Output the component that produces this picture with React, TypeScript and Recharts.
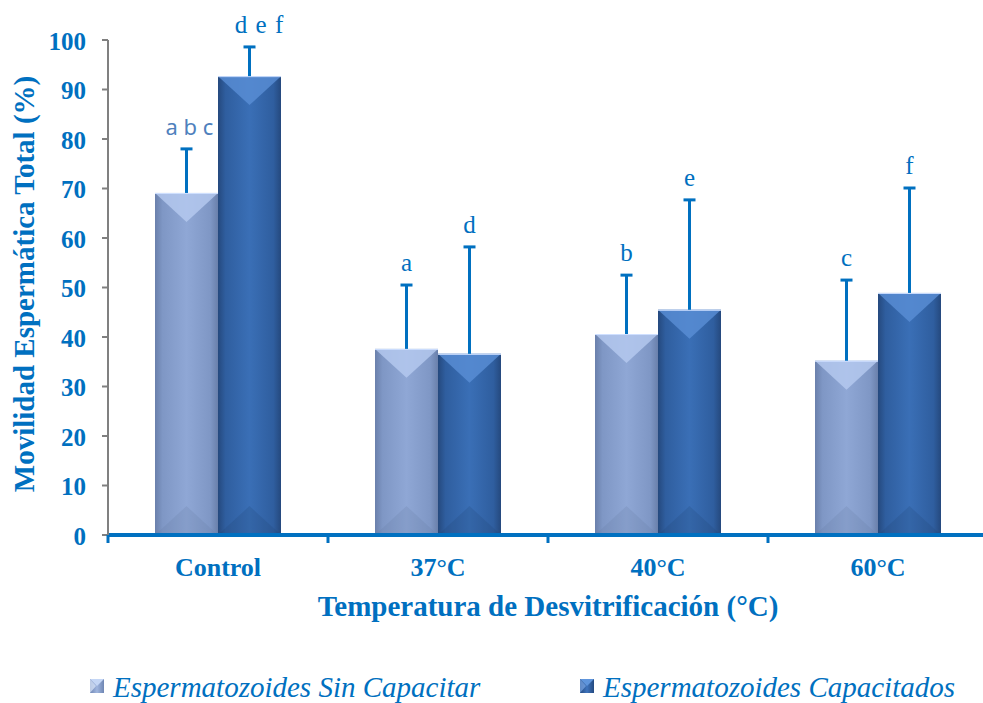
import { BarChart, Bar, XAxis, YAxis } from 'recharts';

const categories = ['Control', '37°C', '40°C', '60°C'];
const sinCapacitar = [69.1, 37.6, 40.6, 35.2];
const capacitados = [92.7, 36.6, 45.5, 48.9];
const errSin = [8.9, 12.9, 11.9, 16.3];
const errCap = [5.9, 21.6, 22.2, 21.2];
const lettersSin = ['a b c', 'a', 'b', 'c'];
const lettersCap = ['d e f', 'd', 'e', 'f'];
const yTicks = [0, 10, 20, 30, 40, 50, 60, 70, 80, 90, 100];
const seriesNames = ['Espermatozoides Sin Capacitar', 'Espermatozoides Capacitados'];

const data = categories.map((name, i) => ({
  name,
  sin: sinCapacitar[i],
  cap: capacitados[i],
  errSin: errSin[i],
  errCap: errCap[i],
  letSin: lettersSin[i],
  letCap: lettersCap[i],
}));

const BLUE = '#0070C0';
const SERIF = '"Liberation Serif", "Times New Roman", serif';

const CHART_W = 995;
const MARGIN = { top: 40, right: 7, bottom: 108, left: 0 };
const Y_W = 108;
const HALF_BAND = (CHART_W - MARGIN.right - MARGIN.left - Y_W) / categories.length / 2;

function makeShape(gradId: string, topColor: string, bottomColor: string, errKey: string, letKey: string, sans: boolean) {
  return (props: any) => {
    const { x, y, width, height, value, payload } = props;
    const v = Array.isArray(value) ? value[1] - value[0] : value;
    const perUnit = v ? height / v : 0;
    const errPx = payload[errKey] * perUnit;
    const cx = x + width / 2;
    const capY = y - errPx;
    const multi = payload[letKey].length > 1;
    const isAbc = sans && multi;
    return (
      <g>
        <rect x={x} y={y} width={width} height={height} fill={`url(#${gradId})`} />
        <polygon points={`${x},${y} ${x + width},${y} ${cx},${y + width * 0.46}`} fill={topColor} opacity={0.8} />
        <polygon points={`${x},${y + height} ${x + width},${y + height} ${cx},${y + height - width * 0.46}`} fill={bottomColor} opacity={0.18} />
        <line x1={x} x2={x + width} y1={y + 0.5} y2={y + 0.5} stroke="#cfe0ff" strokeWidth={1} />
        <line x1={cx} x2={cx} y1={y} y2={capY} stroke={BLUE} strokeWidth={3} />
        <line x1={cx - 6} x2={cx + 6} y1={capY} y2={capY} stroke={BLUE} strokeWidth={3} />
        <text
          x={cx + (multi ? (isAbc ? 3 : 10) : 0)}
          y={capY - 14}
          textAnchor="middle"
          fill={isAbc ? '#4F81BD' : BLUE}
          fontSize={isAbc ? 22 : 25}
          fontFamily={isAbc ? '"Noto Sans", sans-serif' : SERIF}
          letterSpacing={multi && !isAbc ? 1 : 0}
        >
          {payload[letKey]}
        </text>
      </g>
    );
  };
}

const XTick = (props: any) => {
  const { x, payload, index } = props;
  const base = 535;
  return (
    <g>
      <text x={x} y={576} textAnchor="middle" fill={BLUE} fontWeight="bold" fontSize={26} fontFamily={SERIF}>
        {payload.value}
      </text>
      <line x1={x - HALF_BAND} x2={x - HALF_BAND} y1={base} y2={base + 8} stroke={BLUE} strokeWidth={3} />
      {index === categories.length - 1 && (
        <line x1={x + HALF_BAND} x2={x + HALF_BAND} y1={base} y2={base + 8} stroke={BLUE} strokeWidth={3} />
      )}
    </g>
  );
};

const LegendItem = ({ x, light, label }: { x: number; light: boolean; label: string }) => {
  const id = light ? 'lgL' : 'lgD';
  return (
    <g>
      <defs>
        <linearGradient id={id} x1="0" y1="0" x2="1" y2="0">
          <stop offset="0" stopColor={light ? '#6f86b3' : '#244a80'} />
          <stop offset="0.5" stopColor={light ? '#9fb5de' : '#3f74bd'} />
          <stop offset="1" stopColor={light ? '#6f86b3' : '#244a80'} />
        </linearGradient>
      </defs>
      <rect x={x} y={11} width={14} height={14} fill={`url(#${id})`} />
      <polygon points={`${x},${11} ${x + 14},${11} ${x + 7},${18}`} fill={light ? '#c4d6f5' : '#5f95dc'} />
      <polygon points={`${x},${11} ${x},${25} ${x + 6},${18}`} fill={light ? '#dde8fb' : '#7aa6e6'} opacity={0.7} />
      <text x={x + 23} y={29} fill={BLUE} fontSize={29} fontStyle="italic" fontFamily={SERIF}>
        {label}
      </text>
    </g>
  );
};

export default function App() {
  return (
    <div style={{ position: 'absolute', left: 0, top: 0, width: 983, height: 703, overflow: 'hidden', background: '#fff' }}>
      <BarChart
        width={CHART_W}
        height={703}
        data={data}
        margin={MARGIN}
        barGap={0}
        barCategoryGap={47}
      >
        <defs>
          <linearGradient id="gSin" x1="0" y1="0" x2="1" y2="0">
            <stop offset="0" stopColor="#6a80ab" />
            <stop offset="0.12" stopColor="#7f97c5" />
            <stop offset="0.5" stopColor="#8fa7d5" />
            <stop offset="0.88" stopColor="#7f97c5" />
            <stop offset="1" stopColor="#6a80ab" />
          </linearGradient>
          <linearGradient id="gCap" x1="0" y1="0" x2="1" y2="0">
            <stop offset="0" stopColor="#25497e" />
            <stop offset="0.12" stopColor="#2f5e9f" />
            <stop offset="0.5" stopColor="#3a6fb6" />
            <stop offset="0.88" stopColor="#2f5e9f" />
            <stop offset="1" stopColor="#25497e" />
          </linearGradient>
        </defs>
        <XAxis
          dataKey="name"
          height={60}
          axisLine={{ stroke: BLUE, strokeWidth: 4 }}
          tickLine={false}
          tick={<XTick />}
          interval={0}
          label={{
            content: (p: any) => {
              const vb = p.viewBox || {};
              const cx = vb.x !== undefined ? vb.x + vb.width / 2 : 548;
              return (
                <text x={cx} y={616} textAnchor="middle" fill={BLUE} fontWeight="bold" fontSize={29} fontFamily={SERIF}>
                  Temperatura de Desvitrificación (°C)
                </text>
              );
            },
          }}
        />
        <YAxis
          width={Y_W}
          domain={[0, 100]}
          ticks={yTicks}
          interval={0}
          axisLine={{ stroke: '#808080', strokeWidth: 2 }}
          tickLine={{ stroke: '#808080', strokeWidth: 2 }}
          tickSize={6}
          tickMargin={16}
          tick={{ fill: BLUE, fontWeight: 'bold', fontSize: 25, fontFamily: SERIF, dy: 1 }}
          label={{
            content: () => (
              <text
                x={34}
                y={284}
                transform="rotate(-90 34 284)"
                textAnchor="middle"
                fill={BLUE}
                fontWeight="bold"
                fontSize={29}
                fontFamily={SERIF}
              >
                Movilidad Espermática Total (%)
              </text>
            ),
          }}
        />
        <Bar dataKey="sin" name={seriesNames[0]} isAnimationActive={false} shape={makeShape('gSin', '#b6cbf0', '#5d7299', 'errSin', 'letSin', true)} />
        <Bar dataKey="cap" name={seriesNames[1]} isAnimationActive={false} shape={makeShape('gCap', '#5a8fd6', '#1d3d6b', 'errCap', 'letCap', false)} />
      </BarChart>
      <svg width={983} height={40} style={{ position: 'absolute', left: 0, top: 668 }}>
        <LegendItem x={90} light label={seriesNames[0]} />
        <LegendItem x={580} light={false} label={seriesNames[1]} />
      </svg>
    </div>
  );
}
